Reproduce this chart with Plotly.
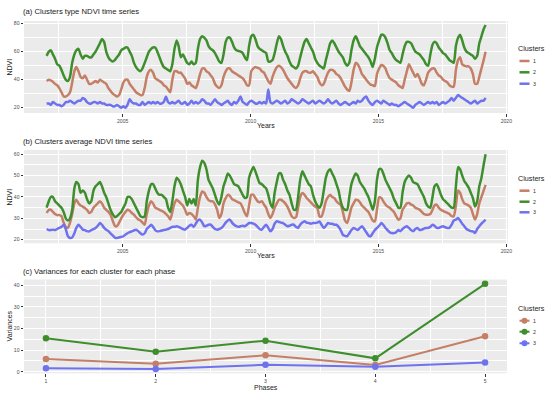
import plotly.graph_objects as go
import pandas as pd

# ---------------- data (monthly, Jan 2002 .. Mar 2019) ----------------
# (a) Clusters type NDVI time series
C1_TYPE = [
    39, 40, 39.5, 38.5, 37, 36, 34, 31, 28, 28, 29, 31,      # 2002
    38, 46, 49, 46, 42, 41, 43, 40, 37, 37, 38, 39,          # 2003
    38, 40, 39, 38, 37, 34, 32, 30, 29, 28, 29, 33,          # 2004
    38, 40, 40, 37, 35, 33, 31, 30, 29, 29, 34, 42,          # 2005
    46, 47, 45, 41, 40, 39, 38, 36, 35, 33, 31, 40,          # 2006
    46, 46, 45, 45, 43, 41, 37, 38, 36, 35, 34, 38,          # 2007
    44, 48, 48, 46, 45, 43, 41, 37, 35, 34, 36, 42,          # 2008
    46, 48, 48, 46, 45, 44, 43, 42, 41, 39, 36, 36,          # 2009
    46, 48, 49, 48.5, 48, 46, 45, 42, 39, 37, 42, 46,        # 2010
    49, 50, 49, 47, 44, 41, 39, 37, 35, 34, 36, 41,          # 2011
    45, 46, 46, 45, 45, 46, 44, 42, 38, 36, 37, 41,          # 2012
    45, 47, 47, 46, 44, 43, 41, 38, 35, 33, 32, 38,          # 2013
    47, 52, 51, 48, 44, 42, 40, 38, 36.5, 36, 35.5, 44,      # 2014
    48, 50.5, 50, 48, 44, 41, 40, 39, 38, 36, 35, 34,        # 2015
    40, 46, 51, 48, 45, 42, 44, 41, 37, 36, 40, 45,          # 2016
    47, 48, 48, 45, 43, 42, 40, 39, 38, 36, 35, 35,          # 2017
    47, 54, 56, 51, 50, 49.5, 49.5, 48, 44, 37, 37, 42,      # 2018
    48, 54, 60,                                              # 2019
]
C2_TYPE = [
    57, 60, 61, 58, 55, 51, 50, 47, 43, 40, 39, 42,
    52, 58, 61, 62, 58, 55, 57, 57, 56, 56, 58, 60,
    63, 66, 69, 67, 60, 56, 54, 53, 54, 56, 58, 61,
    62, 63, 63, 60, 57, 52, 49, 47, 46, 48, 52, 56,
    60, 62, 63, 63, 60, 56, 52, 49, 48, 47, 46, 51,
    62, 68, 64, 56, 58, 55, 52, 51, 53, 51, 52, 62,
    69, 71, 70, 68, 64, 62, 61, 59, 56, 53, 52, 58,
    67, 70, 70, 67, 63, 61, 60.5, 60, 59, 56, 54, 64,
    71, 72, 69, 64, 62, 61, 60, 59, 53, 53, 54, 59,
    66, 71, 69, 64, 60, 57, 53, 50, 49, 48, 50, 56,
    62, 67, 69, 66, 63, 60, 55, 52, 50, 49, 48, 54,
    60, 66, 68, 66, 63, 60, 58, 56, 52, 50, 52, 61,
    68, 71, 68, 64, 62, 60, 58, 56, 53, 49, 55, 63,
    68, 72, 72, 70, 66, 61, 59, 56, 54, 53, 52, 58,
    64, 67, 67, 66, 63, 60, 59, 58, 56, 54, 51, 50,
    58, 65, 67, 66, 63, 61, 59, 58, 56, 54, 53, 52,
    64, 70, 72, 68, 63, 60, 59, 58, 57, 55, 57, 66,
    71, 76, 79,
]
C3_TYPE = [
    23, 23, 22, 24, 23, 22, 22, 21, 22, 24, 24, 25,
    24, 23, 24, 25, 25, 27, 26, 24, 23, 23, 24, 24,
    23, 24, 23, 23, 22, 22, 22, 21, 21, 22, 21, 20,
    21, 20, 22, 26, 24, 23, 23, 22, 22, 24, 22, 23,
    24, 23, 24, 23, 24, 23, 23, 24, 28, 24, 23, 24,
    23, 24, 25, 23, 23, 24, 22, 23, 25, 23, 24, 23,
    24, 26, 25, 23, 23, 22, 24, 26, 24, 23, 22, 23,
    24, 25, 23, 22, 24, 23, 25, 28, 24, 23, 22, 24,
    25, 24, 23, 23, 24, 23, 24, 23, 33, 24, 23, 24,
    25, 24, 23, 24, 25, 23, 24, 26, 25, 24, 23, 24,
    26, 25, 24, 23, 24, 25, 23, 24, 25, 24, 23, 24,
    26, 24, 23, 24, 25, 23, 22, 23, 24, 23, 22, 23,
    24, 23, 25, 24, 25, 27, 28, 25, 23, 22, 24, 25,
    24, 23, 25, 24, 23, 22, 23, 22, 22, 21, 22, 23,
    24, 23, 22, 21, 20, 22, 23, 24, 23, 22, 23, 24,
    23, 24, 23, 24, 22, 23, 24, 23, 24, 25, 27, 25,
    27, 29, 28, 27, 26, 25, 24, 23, 24, 25, 23, 24,
    25, 25, 27,
]

# (b) Clusters average NDVI time series
C1_AVG = [
    32.5, 34, 34, 33, 32, 31.5, 31.5, 31, 28, 26, 25.5, 28,
    32, 37, 38.7, 37, 36, 35.5, 34.8, 34, 32.5, 33, 35, 36,
    37, 38, 37, 35, 34, 33, 31.7, 29, 26.5, 26.3, 28, 30,
    31.7, 33, 34, 33.5, 32.5, 31.7, 30.5, 29.5, 29, 28, 27, 32,
    36, 38, 37, 35, 34.5, 34, 33.5, 33, 32, 31, 29.4, 33,
    37, 38.7, 38, 37, 36, 34, 31.7, 32.5, 32, 31, 29.5, 35,
    40, 42.6, 42, 40, 38.5, 38, 38, 36.5, 34, 30.2, 32, 37,
    39.5, 41, 40.5, 39, 38.5, 38, 37.5, 37, 35, 32.5, 31, 36,
    41, 41, 39.5, 38, 37.5, 38, 36.5, 35, 32, 30.2, 32, 35,
    37, 38.7, 38.7, 38, 37, 35.5, 33.3, 31, 30.2, 30.5, 35, 40,
    41.9, 41, 39.5, 38.5, 37.5, 36.4, 35.5, 34.8, 31, 30.9, 34, 38,
    40, 41, 40, 39.5, 38, 37, 36.4, 33, 29, 27.8, 31, 35,
    37, 38.7, 38.5, 37.5, 36, 35, 34, 33, 31, 29, 28.6, 34,
    39.8, 39.5, 38, 36.5, 35.5, 35, 34, 33, 31, 29.4, 30, 34,
    35.5, 37, 37.2, 36.5, 36, 35, 34.5, 34, 33, 32, 31.7, 31.7,
    32, 34, 36, 36.4, 35, 34, 33.5, 33, 32.5, 32, 31, 31,
    36, 43, 42, 39, 37, 36.5, 36, 35, 32, 29.4, 32, 37,
    40, 43, 45.7,
]
C2_AVG = [
    35, 38, 40, 40, 38, 37, 36, 35, 33, 30, 29, 30,
    34, 44, 47, 46, 42, 43, 42, 39, 37, 38, 43, 45,
    46, 47, 45, 42, 40, 37, 34, 32, 30.5, 31, 32, 33,
    35, 37, 40, 40, 39, 37, 35, 33, 31, 30.5, 31, 38,
    43, 46, 46, 44, 42, 41, 41, 40, 39, 35, 33, 38,
    45, 49, 48, 46, 43, 40, 36, 39, 37, 39, 36, 48,
    54, 57, 56, 53, 48, 46, 44, 41, 38, 36.5, 40, 45,
    48, 51, 50, 48, 46, 45.5, 45, 43, 41, 39.5, 40, 49,
    52, 54, 52, 49, 46.5, 46, 45, 44, 41, 37, 35, 42,
    47, 51, 51, 48, 46, 43, 41, 37, 34, 34, 40, 48,
    52, 50, 48, 46, 45, 41, 38, 36, 35, 37, 43, 49,
    52, 53, 51, 49, 46, 43, 38, 35, 34, 34, 40, 46,
    49, 51, 50, 47, 45.5, 44, 42, 40, 37, 34, 38, 48,
    53, 53, 51, 48, 46, 44, 42, 39, 37, 35, 35, 42,
    47, 49, 50, 49, 47, 46.5, 46, 44, 42, 40, 37, 35.5,
    35, 40, 45, 46, 44, 41, 39, 38, 37, 36, 35, 35,
    45, 54, 53, 50, 47.5, 46, 44.5, 42, 39.5, 35.5, 38, 45,
    49, 55, 60,
]
C3_AVG = [
    25, 24.5, 24.5, 24.7, 24.5, 25, 25.5, 26, 27, 25, 21.6, 20.8,
    21, 23, 25.5, 27, 26, 24.7, 24.5, 24, 23.9, 24.5, 25, 25.5,
    26.5, 27.8, 27, 25.5, 24.7, 24, 23, 22, 21, 20.8, 21, 21.3,
    21.6, 22.4, 23, 23.5, 23.9, 24.3, 24.7, 24, 23, 22.4, 23, 25,
    26, 27, 26, 24.5, 23.9, 24, 24.3, 24.5, 24.7, 25, 25.5, 26,
    26, 26.3, 26, 25.5, 25, 24.7, 25.5, 26.5, 27, 26, 27.5, 29,
    29.4, 28, 26.3, 26.5, 27, 27, 26, 25, 24.7, 25, 25.5, 26.5,
    28, 29, 29.4, 28, 27, 26.3, 26, 26.3, 26.5, 26.3, 27, 27.8,
    27.8, 27.5, 27, 26, 25, 24.7, 26, 27, 25.5, 23.9, 25, 27.5,
    28.6, 28.3, 28, 27.8, 27, 26.3, 26.5, 27, 27, 26, 25.5, 27,
    28, 28.6, 28, 27.8, 27.5, 27.8, 27.8, 28, 28.5, 27, 25.5, 26.5,
    27.8, 27.5, 27.5, 27, 27, 26, 24.5, 22.3, 21.8, 21.6, 23, 24.5,
    25.5, 25, 24.5, 25.5, 26.3, 25, 23.5, 22, 21.6, 23, 24.5, 25.5,
    26.5, 27.8, 27, 25.5, 24.5, 23.5, 23.1, 23.1, 23.5, 24.5, 24, 25,
    25.8, 26.3, 25.5, 24.5, 24, 25, 25.5, 24.5, 24.7, 25.2, 25.5, 25.5,
    26, 27, 26.5, 25.5, 25.5, 26, 26.3, 25.8, 25.5, 25.5, 27, 29,
    29.4, 30.1, 29, 27.5, 26.3, 25, 24.5, 24, 23.9, 23.1, 25, 26.3,
    27.5, 28.5, 29.4,
]

# (c) Variances for each cluster for each phase
PHASES = [1, 2, 3, 4, 5]
VAR_C1 = [5.9, 3.7, 7.6, 3.1, 16.4]
VAR_C2 = [15.5, 9.3, 14.4, 6.2, 40.7]
VAR_C3 = [1.6, 1.25, 3.2, 2.3, 4.3]

CLUSTERS = ["1", "2", "3"]
YEAR_TICKS = ["2005", "2010", "2015", "2020"]

# ---------------- styling ----------------
W, H = 550, 394
COLORS = ["#C47F66", "#3E8E2E", "#6F72EE"]
FONT = "Arial, Liberation Sans, sans-serif"
BG = "#EBEBEB"
TICK_FONT = dict(family=FONT, size=5.1, color="#4D4D4D")


def px(x):
    return x / W


def py(y):
    return 1 - y / H


dates = pd.date_range("2002-01-01", periods=len(C1_TYPE), freq="MS") + pd.Timedelta(days=10)

fig = go.Figure()

for ys, col in zip([C1_TYPE, C2_TYPE, C3_TYPE], COLORS):
    fig.add_trace(go.Scatter(x=dates, y=ys, mode="lines", xaxis="x", yaxis="y",
                             line=dict(color=col, width=2.5, shape="spline", smoothing=0.6),
                             showlegend=False, hoverinfo="skip"))
for ys, col in zip([C1_AVG, C2_AVG, C3_AVG], COLORS):
    fig.add_trace(go.Scatter(x=dates, y=ys, mode="lines", xaxis="x2", yaxis="y2",
                             line=dict(color=col, width=2.5, shape="spline", smoothing=0.6),
                             showlegend=False, hoverinfo="skip"))
for ys, col in zip([VAR_C1, VAR_C2, VAR_C3], COLORS):
    fig.add_trace(go.Scatter(x=PHASES, y=ys, mode="lines+markers", xaxis="x3", yaxis="y3",
                             line=dict(color=col, width=2.0),
                             marker=dict(color=col, size=6.5),
                             showlegend=False, hoverinfo="skip"))

common_ax = dict(showgrid=True, gridcolor="white", gridwidth=0.9, zeroline=False,
                 ticks="outside", ticklen=2.5, tickwidth=0.6, tickcolor="#333333",
                 tickfont=TICK_FONT, showline=False, fixedrange=True, automargin=False)

year_vals = [f"{y}-01-01" for y in YEAR_TICKS]
date_range = ["2001-02-22", "2020-01-25"]
date_minor = dict(dtick="M30", tick0="2000-01-01", showgrid=True, gridcolor="white", gridwidth=0.45)

fig.update_layout(
    template="none",
    width=W, height=H,
    margin=dict(l=0, r=0, t=0, b=0, autoexpand=False),
    paper_bgcolor="white",
    plot_bgcolor=BG,
    showlegend=False,
    xaxis=dict(domain=[px(24), px(508)], anchor="y", type="date", range=date_range,
               tickvals=year_vals, ticktext=YEAR_TICKS, minor=date_minor, **common_ax),
    yaxis=dict(domain=[py(113), py(21)], anchor="x", range=[16.2, 81.9],
               tickvals=[20, 40, 60, 80],
               minor=dict(dtick=10, tick0=0, showgrid=True, gridcolor="white", gridwidth=0.45),
               **common_ax),
    xaxis2=dict(domain=[px(24), px(508)], anchor="y2", type="date", range=date_range,
                tickvals=year_vals, ticktext=YEAR_TICKS, minor=date_minor, **common_ax),
    yaxis2=dict(domain=[py(243.3), py(150)], anchor="x2", range=[18.3, 62.0],
                tickvals=[20, 30, 40, 50, 60],
                minor=dict(dtick=5, tick0=0, showgrid=True, gridcolor="white", gridwidth=0.45),
                **common_ax),
    xaxis3=dict(domain=[px(24), px(507)], anchor="y3", range=[0.8, 5.2],
                tickvals=PHASES, ticktext=[str(p) for p in PHASES],
                minor=dict(dtick=0.5, tick0=0, showgrid=True, gridcolor="white", gridwidth=0.45),
                **common_ax),
    yaxis3=dict(domain=[py(373.3), py(279.5)], anchor="x3", range=[-0.72, 42.7],
                tickvals=[0, 10, 20, 30, 40],
                minor=dict(dtick=5, tick0=0, showgrid=True, gridcolor="white", gridwidth=0.45),
                **common_ax),
)

annotations = []
shapes = []


def text(x, y, s, size, xanchor="left", angle=0, color="#1A1A1A"):
    annotations.append(dict(x=px(x), y=py(y), xref="paper", yref="paper", text=s,
                            showarrow=False, xanchor=xanchor, yanchor="middle",
                            borderpad=0, borderwidth=0,
                            textangle=angle, font=dict(family=FONT, size=size, color=color)))


# panel titles
text(23, 12, "(a) Clusters type NDVI time series", 7.7)
text(23, 141.7, "(b) Clusters average NDVI time series", 7.7)
text(23, 271.7, "(c) Variances for each cluster for each phase", 7.7)

# axis titles
text(266, 126, "Years", 7, xanchor="center")
text(266, 256, "Years", 7, xanchor="center")
text(266, 387, "Phases", 7, xanchor="center")
text(8.5, 67, "NDVI", 7, xanchor="center", angle=-90)
text(8.5, 197, "NDVI", 7, xanchor="center", angle=-90)
text(8.5, 326, "Variances", 7, xanchor="center", angle=-90)

# manual legends
legend_specs = [(49, [61, 72.3, 83.7], False), (178.3, [190.7, 201.7, 212.3], False),
                (308.3, [320.7, 331.7, 343.3], True)]
for title_y, item_ys, with_marker in legend_specs:
    text(517.5, title_y, "Clusters", 7.2)
    for lab, iy, col in zip(CLUSTERS, item_ys, COLORS):
        shapes.append(dict(type="line", xref="paper", yref="paper",
                           x0=px(519.5), x1=px(529.5), y0=py(iy), y1=py(iy),
                           line=dict(color=col, width=2.5 if not with_marker else 2.0)))
        if with_marker:
            r = 3.0
            shapes.append(dict(type="circle", xref="paper", yref="paper",
                               x0=px(524.5 - r), x1=px(524.5 + r), y0=py(iy + r), y1=py(iy - r),
                               fillcolor=col, line=dict(color=col, width=0)))
        text(532.5, iy, lab, 5.3, color="#333333")

fig.update_layout(annotations=annotations, shapes=shapes)

fig.write_html("out.html", config={"displayModeBar": False},
               post_script="document.body.style.margin='0px';document.body.style.padding='0px';")
